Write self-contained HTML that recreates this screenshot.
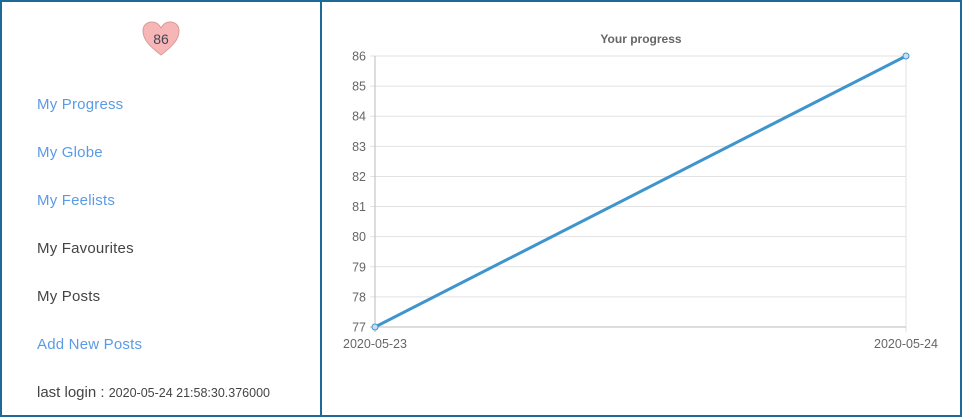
<!DOCTYPE html>
<html><head><meta charset="utf-8"><style>
body{margin:0;width:963px;height:418px;background:#fff;font-family:"Liberation Sans",sans-serif;overflow:hidden;position:relative}
#frame{position:absolute;left:0;top:0;width:962px;height:417px;box-sizing:border-box;border:2px solid #1d6b94}
#divider{position:absolute;left:320px;top:0;width:2px;height:417px;background:#1d6b94}
.nav{position:absolute;left:37px;font-size:15px;color:#444;letter-spacing:0.2px}
.nav.link{color:#5a9be6}
#heart{position:absolute;left:141px;top:20px}
</style></head><body>
<div id="frame"></div>
<div id="divider"></div>
<svg id="heart" width="40" height="38">
<path d="M20 35 C8 26 2 19 2 11 C2 5 6 2 11 2 C15 2 18 4 20 8 C22 4 25 2 29 2 C34 2 38 5 38 11 C38 19 32 26 20 35Z" fill="#f6b6b6" stroke="#d99a9a" stroke-width="1"/>
<text x="20" y="24" text-anchor="middle" font-size="14" fill="#445" font-family="Liberation Sans,sans-serif">86</text>
</svg>
<div class="nav link" style="top:96px">My Progress</div>
<div class="nav link" style="top:144px">My Globe</div>
<div class="nav link" style="top:192px">My Feelists</div>
<div class="nav" style="top:240px">My Favourites</div>
<div class="nav" style="top:288px">My Posts</div>
<div class="nav link" style="top:336px">Add New Posts</div>
<div class="nav" style="top:384px;letter-spacing:0">last login : <span style="font-size:12.5px">2020-05-24 21:58:30.376000</span></div>
<svg id="chart" width="963" height="418" style="position:absolute;left:0;top:0"></svg>
<script>
const categories=["2020-05-23","2020-05-24"];
const values=[77,86];
const yTicks=[77,78,79,80,81,82,83,84,85,86];
const NS="http://www.w3.org/2000/svg";
const svg=document.getElementById('chart');
const x0=375,x1=906,yTop=56,yBot=327,yMin=77,yMax=86;
function xs(i){return x0+(x1-x0)*i/(categories.length-1);}
function ys(v){return yBot-(v-yMin)/(yMax-yMin)*(yBot-yTop);}
function mk(t,a){const e=document.createElementNS(NS,t);for(const k in a)e.setAttribute(k,a[k]);svg.appendChild(e);return e;}
const title=mk('text',{x:641,y:43,'text-anchor':'middle','font-size':12,'font-weight':'bold',fill:'#666'});
title.textContent='Your progress';


yTicks.forEach(v=>{
 const g=mk('line',{x1:x0-5,x2:x1,y1:ys(v),y2:ys(v),stroke:'#e2e2e2'});
 
 
 const t=mk('text',{x:366,y:ys(v)+4.5,'text-anchor':'end','font-size':12.5,fill:'#666'});
 t.textContent=v;
 
 
});
categories.forEach((c,i)=>{
 const g=mk('line',{x1:xs(i),x2:xs(i),y1:yTop,y2:yBot+5,stroke:i==0?'#bbb':'#e2e2e2'});
 
 
 const t=mk('text',{x:xs(i),y:348,'text-anchor':'middle','font-size':12.5,fill:'#666'});
 t.textContent=c;
 
 
});
const ax=mk('line',{x1:x0-5,x2:x1,y1:yBot,y2:yBot,stroke:'#bbb'});


const pts=values.map((v,i)=>xs(i)+','+ys(v)).join(' ');
const line=mk('polyline',{points:pts,fill:'none',stroke:'#3e95cd','stroke-width':3});


values.forEach((v,i)=>{
 const p=mk('circle',{cx:xs(i),cy:ys(v),r:3,fill:'#c9def0',stroke:'#3e95cd','stroke-width':1});
 
 
});
</script>
</body></html>
